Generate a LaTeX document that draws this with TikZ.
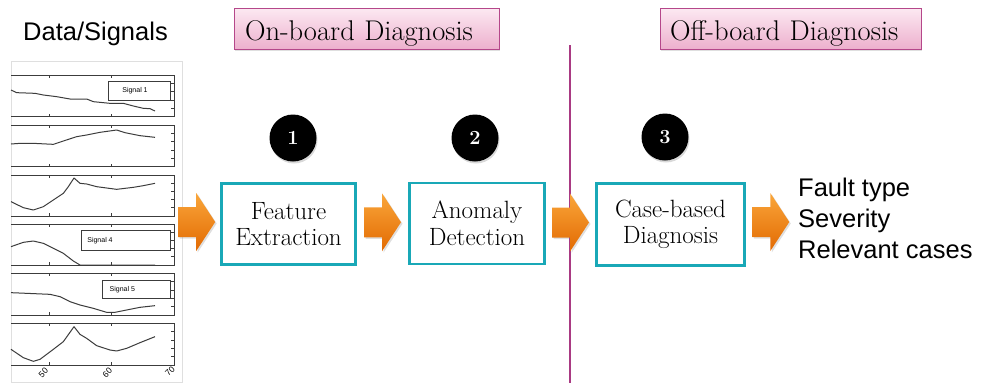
\documentclass[tikz,border=0pt]{standalone}
\usepackage{fontspec}
\newfontfamily\arialfont{Liberation Sans}
\usetikzlibrary{shadows,calc}
\definecolor{tealb}{HTML}{19A8B7}
\definecolor{pinkT}{HTML}{FCE9F2}
\definecolor{pinkB}{HTML}{EDB0CD}
\definecolor{pinkD}{HTML}{B5478A}
\definecolor{vlinec}{HTML}{A93A83}
\definecolor{orL}{HTML}{FAA63A}
\definecolor{orD}{HTML}{E26A02}
\definecolor{plotc}{HTML}{3C3C3C}
\newcommand\blockarr[1]{%
  \path[blockarrow] ($(#1)+(-18.5,-15)$) -- ($(#1)+(-0.5,-15)$) -- ($(#1)+(-0.5,-29)$)
    -- ($(#1)+(18.5,0)$) -- ($(#1)+(-0.5,29)$) -- ($(#1)+(-0.5,15)$)
    -- ($(#1)+(-18.5,15)$) -- cycle;}
\begin{document}
\begin{tikzpicture}[x=1pt,y=-1pt,
  stagebox/.style={draw=tealb, line width=2.6pt, fill=white, align=center,
    font=\fontsize{25}{26.5}\selectfont, minimum height=81pt, inner sep=0pt},
  titlebox/.style={draw=pinkD, line width=0.8pt, top color=pinkT, bottom color=pinkB,
    font=\fontsize{28.5}{29}\selectfont, align=left, text height=28pt, text depth=5pt,
    inner ysep=4pt, drop shadow={opacity=0.25, shadow xshift=1.2pt, shadow yshift=-1.5pt}},
  numdot/.style={circle, fill=black, text=white, minimum size=47pt, inner sep=0pt,
    font=\bfseries\fontsize{20}{20}\selectfont,
    drop shadow={opacity=0.3, shadow xshift=1pt, shadow yshift=-2pt}},
  blockarrow/.style={top color=orL, bottom color=orD,
    drop shadow={opacity=0.25, shadow xshift=1.5pt, shadow yshift=-1.5pt}},
  outtext/.style={anchor=base west, inner sep=0pt, font=\arialfont\fontsize{25.5}{25.5}\selectfont},
  panelline/.style={draw=plotc, line width=0.7pt},
  curve/.style={draw=plotc, line width=1pt, line join=round},
  legendbox/.style={draw=plotc, line width=0.7pt, fill=white},
  legendtext/.style={inner sep=0pt, font=\arialfont\fontsize{7}{7}\selectfont},
  ticklabel/.style={inner sep=0pt, rotate=45, font=\arialfont\fontsize{8.5}{8.5}\selectfont}
]
\useasboundingbox (0,0) rectangle (981,383);

% Data/Signals
\node[outtext] (data) at (23,40) {Data/Signals};

% signal panel
\begin{scope}[shift={(0,60)}, x=0.33333pt, y=-0.33333pt]
  \draw[gray!25, fill=white, line width=0.6pt] (33,5) rectangle (548,968);
  \foreach \t/\b in {45/170,195/320,345/468,492/615,640/765,790/915} {
    \draw[panelline] (33,\t) -- (522,\t) -- (522,\b) -- (33,\b);
    \foreach \xx in {148,335} {
      \draw[panelline] (\xx,\t) -- (\xx,{\t+9});
      \draw[panelline] (\xx,\b) -- (\xx,{\b-9});
    }
    \foreach \k in {1,...,4} {
      \draw[panelline] (522,{\t+\k*(\b-\t)/5}) -- ++(-8,0);
    }
  }
  \draw[curve] (33,90) -- (50,98) -- (105,100) -- (130,105) -- (170,110) -- (210,117) -- (260,117) -- (280,125) -- (310,128) -- (330,130) -- (370,130) -- (400,138) -- (430,145) -- (450,146) -- (465,153);
  \draw[curve] (33,252) -- (60,250) -- (100,250) -- (160,253) -- (190,243) -- (230,230) -- (260,225) -- (300,217) -- (350,210) -- (375,218) -- (420,227) -- (465,232);
  \draw[curve] (33,425) -- (70,443) -- (100,450) -- (130,440) -- (160,420) -- (190,400) -- (205,380) -- (222,354) -- (240,370) -- (260,372) -- (290,380) -- (350,388) -- (400,382) -- (430,377) -- (465,370);
  \draw[curve] (33,560) -- (70,547) -- (100,543) -- (130,550) -- (160,565) -- (190,580) -- (220,603) -- (240,615) -- (300,615) -- (465,615);
  \draw[curve] (33,698) -- (80,700) -- (150,703) -- (180,710) -- (210,725) -- (240,735) -- (280,745) -- (320,757) -- (345,757) -- (380,750) -- (420,742) -- (465,737);
  \draw[curve] (33,868) -- (70,893) -- (100,904) -- (120,898) -- (160,868) -- (190,845) -- (222,800) -- (240,823) -- (260,835) -- (290,857) -- (330,870) -- (350,873) -- (380,865) -- (420,848) -- (465,830);
  \draw[legendbox] (325,65) rectangle (510,120);
  \node[legendtext] (sig1) at (405,92) {Signal 1};
  \draw[legendbox] (243,512) rectangle (510,570);
  \node[legendtext] (sig4) at (300,543) {Signal 4};
  \draw[legendbox] (307,662) rectangle (510,715);
  \node[legendtext] (sig5) at (367,690) {Signal 5};
  \node[ticklabel] (t50) at (130,938) {50};
  \node[ticklabel] (t60) at (322,938) {60};
  \node[ticklabel] (t70) at (510,934) {70};
\end{scope}

% vertical divider
\coordinate (vtop) at (570,45);
\coordinate (vbot) at (570,383);
\draw[vlinec, line width=1.1pt] (vtop) -- (vbot);

% titles
\node[titlebox, minimum width=265pt, text width=243pt, inner xsep=11pt] (onb) at (366.5,28.5) {On-board Diagnosis};
\node[titlebox, minimum width=261pt, text width=241pt, inner xsep=10pt] (offb) at (790.5,28.5) {Off-board Diagnosis};

% stages
\node[stagebox, minimum width=134pt] (fe) at (288.5,224) {Feature\\Extraction};
\node[stagebox, minimum width=135pt] (ad) at (477,223.5) {Anomaly\\Detection};
\node[stagebox, minimum width=148pt, minimum height=82pt] (cb) at (670.5,224.5) {Case-based\\Diagnosis};

% numbers
\node[numdot] (n1) at (293,138) {1};
\node[numdot] (n2) at (475,138) {2};
\node[numdot] (n3) at (665,137) {3};

% outputs
\node[outtext] (o1) at (798,196) {Fault type};
\node[outtext] (o2) at (798,227) {Severity};
\node[outtext] (o3) at (798,258) {Relevant cases};

% arrows
\coordinate (a1) at ($(fe.west)+(-23.5,-2)$);
\coordinate (a2) at ($(fe.east)!0.5!(ad.west)+(0,-1.5)$);
\coordinate (a3) at ($(ad.east)!0.5!(cb.west)+(0,-1.5)$);
\coordinate (a4) at ($(cb.east)+(25,-2.5)$);
\blockarr{a1}
\blockarr{a2}
\blockarr{a3}
\blockarr{a4}
\end{tikzpicture}
\end{document}
